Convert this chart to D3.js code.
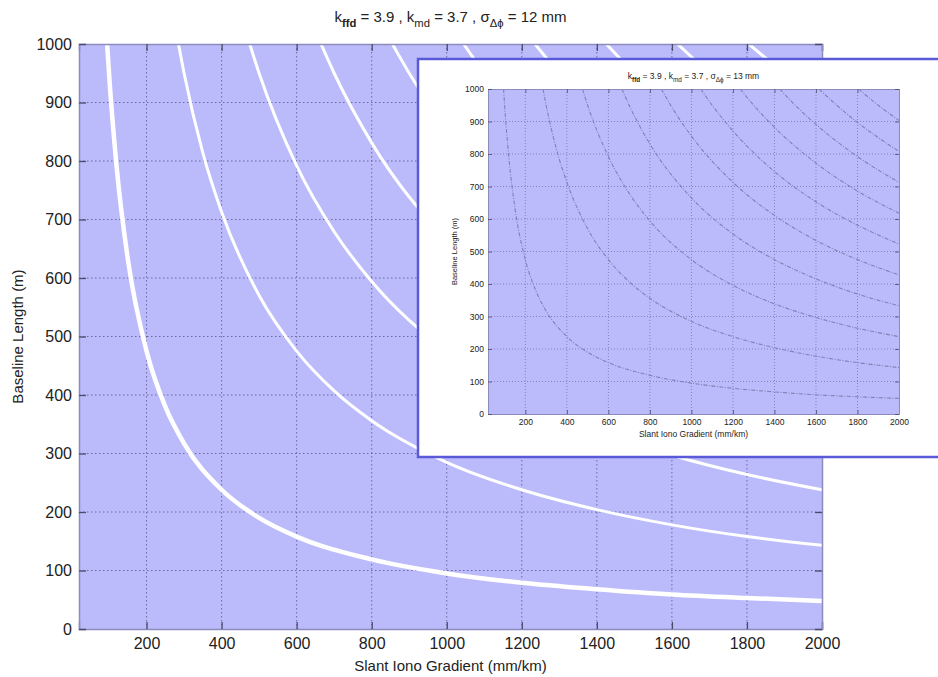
<!DOCTYPE html>
<html>
<head>
<meta charset="utf-8">
<script src="https://cdn.jsdelivr.net/npm/d3@7"></script>
<style>
  body { margin: 0; background: #fff; }
  text { font-family: "Liberation Sans", Arial, sans-serif; }
</style>
</head>
<body>
<div id="plot"></div>
<script>
"use strict";

// tick labels
const xTicks = [200, 400, 600, 800, 1000, 1200, 1400, 1600, 1800, 2000];
const yTicks = [0, 100, 200, 300, 400, 500, 600, 700, 800, 900, 1000];

// ambiguity curves: slant gradient (mm/km) vs baseline (m)
const grad1 = [95, 100, 120, 150, 200, 250, 300, 400, 500, 600, 800, 1000, 1200, 1400, 1600, 1800, 2000];
const base1 = [1000, 950, 792, 633, 475, 380, 317, 238, 190, 158, 119, 95, 79, 68, 59, 53, 48];
const grad2 = [285, 300, 350, 400, 500, 600, 700, 800, 1000, 1200, 1400, 1600, 1800, 2000];
const base2 = [1000, 950, 814, 713, 570, 475, 407, 356, 285, 238, 204, 178, 158, 143];
const grad3 = [475, 500, 600, 700, 800, 1000, 1200, 1400, 1600, 1800, 2000];
const base3 = [1000, 950, 792, 679, 594, 475, 396, 339, 297, 264, 238];
const grad4 = [665, 700, 800, 1000, 1200, 1400, 1600, 1800, 2000];
const base4 = [1000, 950, 831, 665, 554, 475, 416, 369, 333];
const grad5 = [855, 900, 1000, 1200, 1400, 1600, 1800, 2000];
const base5 = [1000, 950, 855, 713, 611, 534, 475, 428];
const grad6 = [1045, 1100, 1200, 1400, 1600, 1800, 2000];
const base6 = [1000, 950, 871, 746, 653, 581, 523];
const grad7 = [1235, 1300, 1400, 1600, 1800, 2000];
const base7 = [1000, 950, 882, 772, 686, 618];
const grad8 = [1425, 1500, 1600, 1800, 2000];
const base8 = [1000, 950, 891, 792, 713];
const grad9 = [1615, 1700, 1800, 2000];
const base9 = [1000, 950, 897, 808];
const grad10 = [1805, 1900, 2000];
const base10 = [1000, 950, 903];

const gradRange = [20, 2000];
const baseRange = [0, 1000];

const mainTitle = { k1: "3.9", k2: "3.7", sigma: "12 mm" };
const insetTitle = { k1: "3.9", k2: "3.7", sigma: "13 mm" };

const msm = {
    width: 938,
    height: 677,
    main: { left: 79, right: 822, top: 44, bottom: 629, font: 16, tick: 7 },
    inset: { left: 488, right: 899, top: 89, bottom: 414, font: 8.5, tick: 4 }
};

const colors = {
    plotBg: "#bbbbfc",
    box: "#8c8cbc",
    tick: "#4a4a6a",
    grid: "#6a6aa0",
    text: "#222",
    frame: "#5a5ad8",
    insetLine: "#8080b4"
};

let svg = "";

window.onload = function () {
    svg = d3.select("#plot")
        .append("svg")
        .attr("width", msm.width)
        .attr("height", msm.height);

    let curves = [
        [grad1, base1], [grad2, base2], [grad3, base3], [grad4, base4], [grad5, base5],
        [grad6, base6], [grad7, base7], [grad8, base8], [grad9, base9], [grad10, base10]
    ].map((c) => c[0].map((g, i) => ({ g: g, b: c[1][i] })));

    drawPanel("main", msm.main, curves);
    drawFrame();
    drawPanel("inset", msm.inset, curves);
}

function getScalers(box) {
    let xScale = d3.scaleLinear().domain(gradRange).range([box.left, box.right]);
    let yScale = d3.scaleLinear().domain(baseRange).range([box.bottom, box.top]);
    return { xScale: xScale, yScale: yScale };
}

// white call-out box sitting on top of the main chart
function drawFrame() {
    svg.append("rect")
        .attr("x", 418)
        .attr("y", 59)
        .attr("width", 540)
        .attr("height", 398)
        .attr("fill", "#fff")
        .attr("stroke", colors.frame)
        .attr("stroke-width", 2.5);
}

function drawPanel(id, box, curves) {
    let s = getScalers(box);
    let isMain = id === "main";
    let g = svg.append("g");

    g.append("rect")
        .attr("x", box.left).attr("y", box.top)
        .attr("width", box.right - box.left)
        .attr("height", box.bottom - box.top)
        .attr("fill", colors.plotBg);

    // dotted grid
    g.append("g").selectAll("line.gx")
        .data(xTicks.filter((t) => t < gradRange[1]))
        .enter().append("line")
        .attr("x1", (d) => s.xScale(d)).attr("x2", (d) => s.xScale(d))
        .attr("y1", box.top).attr("y2", box.bottom)
        .attr("stroke", colors.grid)
        .attr("stroke-width", isMain ? 1 : 0.7)
        .attr("stroke-dasharray", isMain ? "1.5,2.5" : "1,2");
    g.append("g").selectAll("line.gy")
        .data(yTicks.filter((t) => t > baseRange[0] && t < baseRange[1]))
        .enter().append("line")
        .attr("y1", (d) => s.yScale(d)).attr("y2", (d) => s.yScale(d))
        .attr("x1", box.left).attr("x2", box.right)
        .attr("stroke", colors.grid)
        .attr("stroke-width", isMain ? 1 : 0.7)
        .attr("stroke-dasharray", isMain ? "1.5,2.5" : "1,2");

    // curves, clipped to the axes
    svg.append("clipPath").attr("id", "clip-" + id)
        .append("rect")
        .attr("x", box.left).attr("y", box.top)
        .attr("width", box.right - box.left)
        .attr("height", box.bottom - box.top);

    let line = d3.line()
        .x((d) => s.xScale(d.g))
        .y((d) => s.yScale(d.b))
        .curve(d3.curveMonotoneX);

    g.append("g")
        .attr("clip-path", "url(#clip-" + id + ")")
        .selectAll("path")
        .data(curves)
        .enter().append("path")
        .attr("d", line)
        .attr("fill", "none")
        .attr("stroke", isMain ? "#fff" : colors.insetLine)
        .attr("stroke-width", (d, i) => isMain ? (i === 0 ? 4.5 : 3) : 1.1)
        .attr("stroke-dasharray", isMain ? null : "4,1.5,1,1.5");

    // axes with inward ticks on all four sides
    let fmt = d3.format("d");
    let xAxisB = d3.axisBottom(s.xScale).tickValues(xTicks).tickFormat(fmt).tickSize(-box.tick).tickPadding(isMain ? 9 : 5);
    let xAxisT = d3.axisTop(s.xScale).tickValues(xTicks).tickSize(-box.tick).tickFormat("");
    let yAxisL = d3.axisLeft(s.yScale).tickValues(yTicks).tickFormat(fmt).tickSize(-box.tick).tickPadding(isMain ? 7 : 4);
    let yAxisR = d3.axisRight(s.yScale).tickValues(yTicks).tickSize(-box.tick).tickFormat("");

    let axes = [
        g.append("g").attr("transform", "translate(0," + box.bottom + ")").call(xAxisB),
        g.append("g").attr("transform", "translate(0," + box.top + ")").call(xAxisT),
        g.append("g").attr("transform", "translate(" + box.left + ",0)").call(yAxisL),
        g.append("g").attr("transform", "translate(" + box.right + ",0)").call(yAxisR)
    ];
    axes.forEach((a) => {
        a.select(".domain").attr("stroke", colors.box).attr("stroke-width", isMain ? 1.5 : 1);
        a.selectAll(".tick line").attr("stroke", colors.tick).attr("stroke-width", isMain ? 1.3 : 0.8);
        a.selectAll(".tick text")
            .attr("fill", colors.text)
            .style("font-size", box.font + "px")
            .style("font-family", "'Liberation Sans', Arial, sans-serif");
    });

    let cx = (box.left + box.right) / 2;
    let cy = (box.top + box.bottom) / 2;
    let t = isMain ? mainTitle : insetTitle;
    let tf = isMain ? 15 : 8.5;

    let title = g.append("text")
        .attr("x", cx)
        .attr("y", isMain ? 22 : box.top - 10)
        .attr("text-anchor", "middle")
        .attr("fill", colors.text)
        .style("font-size", tf + "px");
    title.append("tspan").text("k");
    title.append("tspan").attr("dy", tf * 0.3).style("font-size", (tf * 0.75) + "px").style("font-weight", "bold").text("ffd");
    title.append("tspan").attr("dy", -tf * 0.3).text(" = " + t.k1 + " , k");
    title.append("tspan").attr("dy", tf * 0.3).style("font-size", (tf * 0.75) + "px").text("md");
    title.append("tspan").attr("dy", -tf * 0.3).text(" = " + t.k2 + " , σ");
    title.append("tspan").attr("dy", tf * 0.35).style("font-size", (tf * 0.75) + "px").text("Δϕ");
    title.append("tspan").attr("dy", -tf * 0.35).text(" = " + t.sigma);

    g.append("text")
        .attr("x", cx)
        .attr("y", isMain ? 671 : box.bottom + 23)
        .attr("text-anchor", "middle")
        .attr("fill", colors.text)
        .style("font-size", (isMain ? 15 : box.font) + "px")
        .text("Slant Iono Gradient (mm/km)");

    g.append("text")
        .attr("transform", "translate(" + (isMain ? 23 : box.left - 31) + "," + cy + ") rotate(-90)")
        .attr("text-anchor", "middle")
        .attr("fill", colors.text)
        .style("font-size", (isMain ? 15 : 7.5) + "px")
        .text("Baseline Length (m)");
}
</script>
</body>
</html>
